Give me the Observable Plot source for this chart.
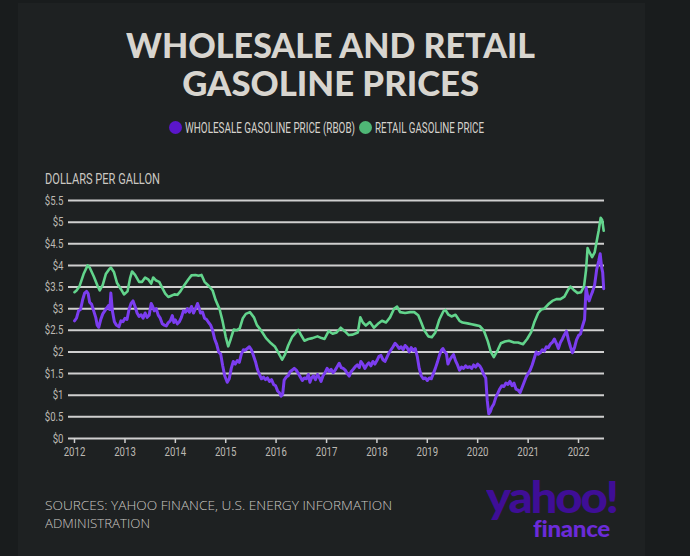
<!DOCTYPE html>
<html>
<head>
<meta charset="utf-8">
<script src="https://cdn.jsdelivr.net/npm/d3@7"></script>
<script src="https://cdn.jsdelivr.net/npm/@observablehq/plot@0.6"></script>
<style>
  html, body { margin: 0; padding: 0; width: 690px; height: 556px; overflow: hidden; background: #191c1d; }
  #panel { position: absolute; left: 18px; top: 3px; width: 627px; height: 553px; background: #1e2122; }
  .abs { position: absolute; white-space: nowrap; }
  .fit { display: inline-block; transform-origin: left top; }
  .narrow { font-family: Roboto, 'Noto Sans', sans-serif; }
  .tline { left: 0; width: 662px; text-align: center; font-family: Lato, 'Open Sans', sans-serif; font-weight: 900; font-size: 35px; line-height: 30px; color: #d8d5cf; }
  .tline span { display: inline-block; transform-origin: center top; }
  .dot { width: 13px; height: 13px; border-radius: 50%; top: 121px; }
  .legtxt { top: 119px; font-size: 14px; line-height: 18px; color: #d6d3cd; }
  #ylabel { left: 45px; top: 170px; font-size: 15px; line-height: 18px; color: #cbc8c2; }
  #chart { left: 0; top: 185px; }
  .src { left: 45px; font-family: 'Open Sans', sans-serif; font-weight: 300; font-size: 13.6px; line-height: 17px; color: #cbc8c2; }
  #logo { left: 486px; top: 478px; font-family: Lato, sans-serif; font-weight: 900; }
  #yahoo { font-size: 44px; line-height: 36px; color: #3f0e96; letter-spacing: -2px; }
  #finance { font-size: 23px; line-height: 20px; color: #6b2bd8; letter-spacing: -0.3px; margin-left: 47px; margin-top: 2px; }
</style>
</head>
<body>
<div id="panel"></div>
<div class="abs tline" style="top:29px"><span id="t1">WHOLESALE AND RETAIL</span></div>
<div class="abs tline" style="top:67px"><span id="t2">GASOLINE PRICES</span></div>
<div class="abs dot" style="left:169px;background:#5a16c9"></div>
<div class="abs legtxt narrow fit" id="leg1" style="left:185px">WHOLESALE GASOLINE PRICE (RBOB)</div>
<div class="abs dot" style="left:359px;background:#4fb776"></div>
<div class="abs legtxt narrow fit" id="leg2" style="left:375px">RETAIL GASOLINE PRICE</div>
<div id="ylabel" class="abs narrow fit">DOLLARS PER GALLON</div>
<div id="chart" class="abs"></div>
<div class="abs src fit" id="src1" style="top:496px">SOURCES: YAHOO FINANCE, U.S. ENERGY INFORMATION</div>
<div class="abs src fit" id="src2" style="top:514px">ADMINISTRATION</div>
<div id="logo" class="abs"><span id="yahoo" class="fit">yahoo!</span><br><span id="finance" class="fit">finance</span></div>
<script>
// ---- data (decimal year, dollars per gallon) ----
const retailYear = [2012.00,2012.04,2012.10,2012.18,2012.26,2012.30,2012.38,2012.46,2012.50,2012.56,2012.62,2012.68,2012.72,2012.78,2012.84,2012.92,2012.98,
2013.05,2013.10,2013.14,2013.20,2013.28,2013.34,2013.40,2013.46,2013.52,2013.56,2013.62,2013.68,2013.74,2013.80,2013.86,2013.92,2013.98,
2014.04,2014.10,2014.18,2014.26,2014.32,2014.40,2014.46,2014.52,2014.58,2014.66,2014.74,2014.80,2014.88,2014.94,
2015.00,2015.05,2015.10,2015.16,2015.22,2015.28,2015.34,2015.40,2015.48,2015.56,2015.62,2015.70,2015.80,2015.90,2015.98,
2016.06,2016.12,2016.18,2016.24,2016.32,2016.40,2016.44,2016.50,2016.56,2016.64,2016.72,2016.82,2016.90,2016.96,
2017.04,2017.12,2017.20,2017.28,2017.36,2017.44,2017.52,2017.62,2017.67,2017.72,2017.78,2017.86,2017.94,
2018.02,2018.10,2018.18,2018.26,2018.34,2018.40,2018.46,2018.56,2018.66,2018.74,2018.82,2018.88,2018.94,
2019.02,2019.09,2019.16,2019.24,2019.32,2019.36,2019.42,2019.48,2019.56,2019.64,2019.70,2019.80,2019.88,2019.96,
2020.04,2020.12,2020.20,2020.26,2020.32,2020.40,2020.46,2020.54,2020.62,2020.72,2020.80,2020.90,2020.98,
2021.06,2021.12,2021.20,2021.26,2021.32,2021.40,2021.48,2021.56,2021.64,2021.72,2021.80,2021.84,2021.90,2021.98,
2022.05,2022.11,2022.15,2022.18,2022.22,2022.27,2022.32,2022.36,2022.40,2022.44,2022.47,2022.50];
const retailPrice = [3.38,3.42,3.52,3.80,4.00,3.95,3.75,3.52,3.42,3.55,3.80,3.90,3.95,3.85,3.60,3.45,3.33,
3.40,3.70,3.86,3.78,3.62,3.62,3.72,3.68,3.58,3.72,3.65,3.62,3.48,3.35,3.27,3.30,3.33,
3.32,3.40,3.55,3.68,3.77,3.78,3.76,3.78,3.62,3.53,3.42,3.20,2.98,2.70,
2.35,2.13,2.30,2.52,2.50,2.55,2.78,2.88,2.92,2.80,2.62,2.50,2.32,2.20,2.12,
1.95,1.82,1.95,2.15,2.35,2.46,2.51,2.38,2.26,2.30,2.32,2.36,2.32,2.30,
2.48,2.42,2.45,2.56,2.48,2.39,2.40,2.45,2.80,2.68,2.61,2.69,2.56,
2.65,2.72,2.68,2.80,3.00,3.05,2.92,2.90,2.92,2.92,2.85,2.68,2.50,
2.36,2.34,2.45,2.75,2.94,2.97,2.86,2.82,2.86,2.72,2.68,2.66,2.64,2.62,
2.60,2.50,2.25,2.00,1.88,2.05,2.20,2.24,2.26,2.22,2.22,2.18,2.30,
2.46,2.68,2.90,2.98,3.00,3.10,3.18,3.22,3.22,3.28,3.45,3.51,3.44,3.36,
3.38,3.52,3.90,4.40,4.30,4.19,4.30,4.55,4.80,5.10,5.05,4.80];

const wholesaleYear = [2012.00,2012.04,2012.08,2012.12,2012.16,2012.20,2012.24,2012.27,2012.30,2012.34,2012.38,2012.42,2012.45,2012.48,2012.52,2012.56,2012.60,2012.64,2012.68,2012.70,2012.72,2012.75,2012.79,2012.83,2012.88,2012.92,2012.96,
2013.00,2013.04,2013.08,2013.12,2013.16,2013.20,2013.24,2013.28,2013.32,2013.36,2013.40,2013.44,2013.48,2013.52,2013.55,2013.58,2013.62,2013.66,2013.70,2013.74,2013.78,2013.82,2013.86,2013.90,2013.94,2013.97,
2014.00,2014.04,2014.08,2014.12,2014.16,2014.20,2014.24,2014.28,2014.32,2014.36,2014.40,2014.44,2014.47,2014.50,2014.54,2014.58,2014.62,2014.66,2014.70,2014.74,2014.78,2014.82,2014.86,2014.90,2014.94,2014.98,
2015.03,2015.07,2015.11,2015.15,2015.19,2015.23,2015.27,2015.31,2015.35,2015.39,2015.43,2015.47,2015.51,2015.55,2015.59,2015.63,2015.67,2015.71,2015.75,2015.79,2015.83,2015.87,2015.91,2015.95,2015.99,
2016.03,2016.07,2016.10,2016.13,2016.16,2016.20,2016.24,2016.28,2016.32,2016.36,2016.40,2016.44,2016.48,2016.52,2016.56,2016.60,2016.64,2016.67,2016.70,2016.74,2016.78,2016.82,2016.86,2016.89,2016.93,2016.97,
2017.01,2017.05,2017.09,2017.13,2017.17,2017.21,2017.25,2017.29,2017.33,2017.37,2017.41,2017.45,2017.49,2017.53,2017.57,2017.61,2017.65,2017.68,2017.72,2017.76,2017.80,2017.84,2017.88,2017.92,2017.96,
2018.00,2018.04,2018.08,2018.12,2018.16,2018.20,2018.24,2018.28,2018.32,2018.36,2018.40,2018.44,2018.48,2018.52,2018.56,2018.60,2018.64,2018.68,2018.72,2018.76,2018.80,2018.84,2018.88,2018.92,2018.96,
2019.00,2019.04,2019.08,2019.12,2019.16,2019.20,2019.24,2019.28,2019.31,2019.35,2019.38,2019.41,2019.44,2019.48,2019.52,2019.56,2019.60,2019.64,2019.68,2019.72,2019.76,2019.80,2019.84,2019.88,2019.92,2019.96,
2020.00,2020.04,2020.08,2020.12,2020.16,2020.19,2020.22,2020.25,2020.28,2020.32,2020.36,2020.40,2020.44,2020.48,2020.52,2020.56,2020.60,2020.64,2020.68,2020.72,2020.76,2020.80,2020.84,2020.88,2020.92,2020.96,
2021.00,2021.04,2021.08,2021.12,2021.16,2021.20,2021.24,2021.28,2021.32,2021.36,2021.40,2021.44,2021.48,2021.52,2021.56,2021.60,2021.64,2021.68,2021.72,2021.76,2021.80,2021.84,2021.88,2021.92,2021.96,
2022.00,2022.04,2022.08,2022.12,2022.15,2022.18,2022.21,2022.24,2022.28,2022.32,2022.36,2022.40,2022.43,2022.46,2022.48,2022.50];
const wholesalePrice = [2.72,2.78,2.95,2.98,3.20,3.36,3.40,3.35,3.15,3.10,2.95,2.80,2.62,2.57,2.75,2.88,2.95,3.02,3.08,2.98,3.36,2.95,2.70,2.62,2.58,2.72,2.70,
2.78,2.75,2.98,3.12,3.18,3.05,2.90,2.82,2.86,2.78,2.90,2.80,2.85,3.12,3.05,2.95,3.00,2.85,2.78,2.65,2.62,2.60,2.68,2.72,2.84,2.68,
2.74,2.65,2.70,2.80,2.95,2.92,3.00,2.92,3.05,2.90,3.00,3.12,3.02,2.90,2.92,2.78,2.75,2.68,2.62,2.50,2.30,2.18,2.00,1.95,1.68,1.45,
1.30,1.38,1.62,1.78,1.72,1.80,1.76,1.95,2.05,2.04,2.08,2.12,2.05,1.92,1.78,1.60,1.48,1.38,1.42,1.36,1.40,1.32,1.36,1.25,1.22,
1.10,1.05,0.98,1.02,1.35,1.42,1.45,1.55,1.58,1.62,1.58,1.50,1.42,1.34,1.40,1.38,1.48,1.30,1.40,1.45,1.36,1.48,1.40,1.32,1.45,1.52,
1.62,1.55,1.60,1.52,1.58,1.66,1.74,1.64,1.62,1.58,1.50,1.44,1.55,1.60,1.66,1.70,1.64,1.78,1.72,1.62,1.70,1.75,1.68,1.78,1.72,
1.80,1.90,1.92,1.82,1.78,1.88,1.98,2.05,2.12,2.20,2.15,2.08,2.12,2.05,2.15,2.10,2.00,2.10,2.03,2.08,1.90,1.62,1.45,1.38,1.40,
1.34,1.40,1.38,1.50,1.62,1.76,1.92,2.04,2.08,2.00,1.96,1.72,1.80,1.88,1.94,1.80,1.70,1.58,1.65,1.62,1.68,1.64,1.66,1.62,1.70,1.65,
1.72,1.68,1.60,1.48,1.40,0.88,0.57,0.62,0.72,0.80,0.95,1.05,1.15,1.22,1.20,1.28,1.25,1.32,1.22,1.28,1.14,1.12,1.06,1.18,1.30,1.42,
1.50,1.58,1.70,1.85,2.00,1.95,1.98,2.05,2.02,2.12,2.10,2.18,2.22,2.30,2.20,2.08,2.22,2.30,2.40,2.48,2.28,2.12,1.98,2.10,2.28,
2.38,2.42,2.60,2.75,3.49,3.30,3.18,3.28,3.40,3.55,3.90,4.10,4.27,3.95,3.84,3.46];

const yTicks = [0, 0.5, 1, 1.5, 2, 2.5, 3, 3.5, 4, 4.5, 5, 5.5];
const xTickYears = [2012, 2013, 2014, 2015, 2016, 2017, 2018, 2019, 2020, 2021, 2022];
const xDomainYears = [2011.881, 2022.516];

// ---- build ----
function toDate(t) {
  const y = Math.floor(t);
  const a = Date.UTC(y, 0, 1), b = Date.UTC(y + 1, 0, 1);
  return new Date(a + (t - y) * (b - a));
}
const retail = retailYear.map((t, i) => ({date: toDate(t), price: retailPrice[i]}));
const wholesale = wholesaleYear.map((t, i) => ({date: toDate(t), price: wholesalePrice[i]}));

const gridColor = "#cfcfcf";
const textColor = "#bdb9b3";
const narrow = "Roboto, 'Noto Sans', sans-serif";

const chart = Plot.plot({
  width: 690,
  height: 290,
  marginTop: 15,
  marginBottom: 37,
  marginLeft: 68,
  marginRight: 86,
  x: {type: "utc", domain: xDomainYears.map(toDate)},
  y: {domain: [0, 5.5]},
  style: {background: "transparent", color: textColor, fontFamily: narrow, fontSize: "13px"},
  marks: [
    Plot.ruleY(yTicks, {stroke: gridColor, strokeWidth: 2}),
    Plot.axisY({ticks: yTicks, tickSize: 0, tickPadding: 5, tickFormat: d => "$" + d, label: null, fill: textColor}),
    Plot.axisX({ticks: xTickYears.map(toDate), tickSize: 5, tickPadding: 3, tickFormat: d3.utcFormat("%Y"), label: null, stroke: gridColor, strokeWidth: 1.5, fill: textColor}),
    Plot.line(wholesale, {x: "date", y: "price", stroke: "#7b3df0", strokeWidth: 3, strokeLinejoin: "round"}),
    Plot.line(retail, {x: "date", y: "price", stroke: "#62d48c", strokeWidth: 2.6, strokeLinejoin: "round"})
  ]
});
// condense axis tick labels (the original uses a condensed face)
d3.select(chart).selectAll("g[aria-label$='tick label'] text").each(function() {
  const tr = this.getAttribute("transform") || "";
  this.setAttribute("transform", tr + " scale(0.74,1)");
});
document.getElementById("chart").appendChild(chart);

// condense HTML texts to the widths seen in the original
function fitWidth(id, w) {
  const el = document.getElementById(id);
  const cur = el.getBoundingClientRect().width;
  el.style.transform = `scaleX(${w / cur})`;
}
fitWidth("t1", 409);
fitWidth("t2", 297);
fitWidth("leg1", 170);
fitWidth("leg2", 109);
fitWidth("ylabel", 115);
fitWidth("src1", 347);
fitWidth("src2", 105);
fitWidth("yahoo", 131);
fitWidth("finance", 77);
</script>
</body>
</html>
